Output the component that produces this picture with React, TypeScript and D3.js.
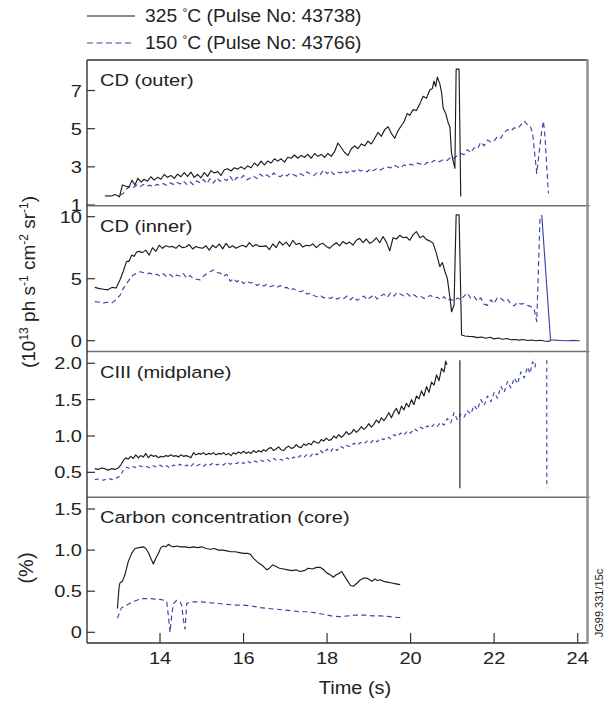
import React from "react";
import * as d3 from "d3";

type Pt = [number, number | null];

// ---------- categories / ticks ----------
const timeTicks = [14, 16, 18, 20, 22, 24];
const panelTitles = ["CD (outer)", "CD (inner)", "CIII (midplane)", "Carbon concentration (core)"];
const outerTicks = [1, 3, 5, 7];
const outerTickLabels = ["1", "3", "5", "7"];
const innerTicks = [0, 5, 10];
const innerTickLabels = ["0", "5", "10"];
const ciiiTicks = [0.5, 1.0, 1.5, 2.0];
const ciiiTickLabels = ["0.5", "1.0", "1.5", "2.0"];
const carbonTicks = [0, 0.5, 1.0, 1.5];
const carbonTickLabels = ["0", "0.5", "1.0", "1.5"];
const legendLabels = ["325 ", "150 "];
const legendPulses = ["C (Pulse No: 43738)", "C (Pulse No: 43766)"];

// ---------- series: CD (outer) ----------
const cdOuter325: Pt[] = [
  [12.68,1.47],[12.76,1.48],[12.84,1.47],[12.92,1.55],[12.98,1.5],[13.03,1.42],[13.1,2.05],[13.18,1.98],[13.26,1.95],
  [13.33,2.3],[13.4,2.05],[13.47,2.4],[13.55,2.2],[13.62,2.35],[13.7,2.25],[13.78,2.48],[13.86,2.3],[13.94,2.45],
  [14.02,2.35],[14.1,2.6],[14.18,2.45],[14.26,2.55],[14.34,2.4],[14.42,2.62],[14.5,2.48],[14.58,2.7],[14.66,2.5],
  [14.74,2.72],[14.82,2.45],[14.9,2.6],[14.98,2.42],[15.06,2.7],[15.14,2.5],[15.22,2.8],[15.3,2.68],[15.38,2.75],
  [15.46,2.55],[15.54,2.85],[15.62,2.9],[15.7,2.78],[15.78,2.95],[15.86,2.88],[15.94,3.0],[16.02,2.88],[16.1,3.05],
  [16.18,2.95],[16.26,3.2],[16.34,3.05],[16.42,3.3],[16.5,3.1],[16.58,3.3],[16.66,3.2],[16.74,3.42],[16.82,3.3],
  [16.9,3.42],[16.98,3.25],[17.06,3.5],[17.14,3.45],[17.22,3.62],[17.3,3.45],[17.38,3.6],[17.46,3.5],[17.54,3.65],
  [17.62,3.45],[17.7,3.7],[17.78,3.55],[17.86,3.65],[17.94,3.5],[18.02,3.7],[18.1,3.55],[18.18,3.8],[18.26,4.25],
  [18.34,4.0],[18.42,3.75],[18.5,3.6],[18.58,3.95],[18.66,4.1],[18.74,3.95],[18.82,4.2],[18.9,4.1],[18.98,4.35],
  [19.06,4.2],[19.14,4.5],[19.22,4.8],[19.3,4.6],[19.38,4.95],[19.46,5.1],[19.54,4.75],[19.62,4.5],[19.7,4.9],
  [19.76,5.1],[19.84,5.35],[19.92,5.8],[19.98,5.7],[20.06,6.0],[20.14,5.95],[20.22,6.3],[20.3,6.7],[20.38,6.6],
  [20.46,7.03],[20.52,7.1],[20.56,7.5],[20.6,7.2],[20.64,7.7],[20.7,7.35],[20.74,6.9],[20.78,6.07],[20.84,5.8],
  [20.9,5.3],[20.94,5.1],[20.98,3.7],[21.02,3.3],[21.06,2.92],[21.09,8.12],[21.16,8.12],[21.2,1.44]
];
const cdOuter150: Pt[] = [
  [13.04,1.52],[13.12,1.6],[13.2,1.85],[13.28,1.96],[13.36,1.9],[13.44,2.05],[13.52,1.95],[13.6,2.08],[13.68,1.98],
  [13.76,2.04],[13.84,1.95],[13.92,2.08],[14.0,2.02],[14.08,2.12],[14.16,2.02],[14.24,2.16],[14.32,2.08],[14.4,2.2],
  [14.48,2.1],[14.56,2.25],[14.64,2.08],[14.72,2.22],[14.8,2.06],[14.88,2.26],[14.96,2.16],[15.04,2.34],[15.12,2.12],
  [15.2,2.38],[15.28,2.15],[15.36,2.42],[15.44,2.24],[15.52,2.38],[15.6,2.28],[15.68,2.5],[15.76,2.22],[15.84,2.45],
  [15.92,2.36],[16.0,2.55],[16.08,2.32],[16.16,2.42],[16.24,2.52],[16.32,2.38],[16.4,2.62],[16.48,2.47],[16.56,2.58],
  [16.64,2.44],[16.72,2.68],[16.8,2.54],[16.88,2.48],[16.96,2.62],[17.04,2.52],[17.12,2.68],[17.2,2.58],[17.28,2.5],
  [17.36,2.64],[17.44,2.54],[17.52,2.74],[17.6,2.6],[17.68,2.54],[17.76,2.7],[17.84,2.6],[17.92,2.84],[18.0,2.64],
  [18.08,2.8],[18.16,2.6],[18.24,2.74],[18.32,2.68],[18.4,2.8],[18.48,2.68],[18.56,2.84],[18.64,2.74],[18.72,2.9],
  [18.8,2.78],[18.88,2.84],[18.96,2.74],[19.04,2.9],[19.12,2.8],[19.2,2.94],[19.28,2.84],[19.36,2.94],[19.44,3.0],
  [19.52,2.94],[19.6,3.1],[19.68,3.0],[19.76,2.94],[19.84,3.1],[19.92,3.04],[20.0,3.14],[20.08,3.08],[20.16,3.2],
  [20.24,3.14],[20.32,3.08],[20.4,3.24],[20.48,3.18],[20.56,3.34],[20.64,3.24],[20.72,3.3],[20.8,3.4],[20.88,3.34],
  [20.96,3.5],[21.04,3.44],[21.12,3.6],[21.2,3.7],[21.28,3.64],[21.36,3.9],[21.44,3.74],[21.52,4.0],[21.6,3.94],
  [21.68,4.3],[21.76,4.1],[21.84,4.4],[21.92,4.3],[22.0,4.35],[22.08,4.6],[22.16,4.5],[22.24,4.8],[22.32,4.95],
  [22.4,4.88],[22.48,5.05],[22.56,5.0],[22.64,5.2],[22.72,5.4],[22.8,5.2],[22.86,5.15],[22.92,4.8],[22.98,3.5],
  [23.02,2.66],[23.08,3.8],[23.14,4.9],[23.18,5.4],[23.22,4.5],[23.26,3.0],[23.3,1.6]
];

// ---------- series: CD (inner) ----------
const cdInner325: Pt[] = [
  [12.44,4.3],[12.55,4.2],[12.65,4.15],[12.75,4.1],[12.85,4.3],[12.95,4.25],[13.04,4.9],[13.12,5.6],[13.2,6.4],
  [13.26,6.4],[13.32,6.9],[13.38,6.8],[13.44,7.15],[13.5,7.2],[13.58,7.1],[13.66,7.3],[13.74,6.9],[13.82,7.5],
  [13.9,7.2],[13.98,7.7],[14.06,7.45],[14.14,7.65],[14.22,7.55],[14.3,7.6],[14.38,7.45],[14.46,7.7],[14.54,7.5],
  [14.62,7.55],[14.7,7.75],[14.78,7.4],[14.86,7.6],[14.94,7.5],[15.02,7.45],[15.1,7.65],[15.18,7.3],[15.26,7.7],
  [15.34,7.5],[15.42,7.8],[15.5,7.4],[15.58,7.85],[15.66,7.5],[15.74,7.65],[15.82,7.45],[15.9,7.6],[15.98,7.7],
  [16.06,7.55],[16.14,7.9],[16.22,7.6],[16.3,7.75],[16.38,7.6],[16.46,7.6],[16.54,7.65],[16.62,7.35],[16.7,7.8],
  [16.78,7.5],[16.86,8.0],[16.94,7.7],[17.02,7.95],[17.1,7.6],[17.18,8.1],[17.26,7.75],[17.34,7.85],[17.42,7.55],
  [17.5,7.7],[17.58,7.65],[17.66,7.8],[17.74,7.5],[17.82,7.75],[17.9,7.85],[17.98,7.6],[18.06,7.45],[18.14,7.7],
  [18.22,7.9],[18.3,7.65],[18.38,8.0],[18.46,7.8],[18.54,7.95],[18.62,7.7],[18.7,8.1],[18.78,8.25],[18.86,7.9],
  [18.94,8.2],[19.02,7.85],[19.1,8.0],[19.18,8.3],[19.26,7.9],[19.34,8.4],[19.42,7.95],[19.5,7.25],[19.58,8.3],
  [19.66,8.2],[19.74,8.5],[19.82,8.3],[19.9,8.35],[19.98,8.1],[20.06,8.55],[20.14,8.8],[20.22,8.3],[20.3,8.45],
  [20.38,8.15],[20.46,8.05],[20.54,7.85],[20.62,7.0],[20.7,5.97],[20.76,6.3],[20.82,5.6],[20.88,5.0],[20.94,3.5],
  [20.98,2.34],[21.04,2.88],[21.09,10.14],[21.16,10.14],[21.22,0.46],[21.3,0.38],[21.4,0.35],[21.5,0.33],[21.6,0.25],
  [21.7,0.3],[21.8,0.2],[21.9,0.28],[22.0,0.15],[22.1,0.22],[22.2,0.12],[22.3,0.18],[22.4,0.08],[22.5,0.1],
  [22.6,0.05],[22.7,0.1],[22.8,0.02],[22.9,0.06],[23.0,0.0],[23.1,0.04],[23.2,-0.02],[23.3,-0.05],[23.36,0.02]
];
const cdInner150: Pt[] = [
  [12.44,3.15],[12.55,3.1],[12.65,3.05],[12.75,3.1],[12.85,3.05],[12.95,3.3],[13.05,3.7],[13.12,4.2],[13.2,4.6],
  [13.28,5.0],[13.36,5.3],[13.44,5.45],[13.52,5.56],[13.6,5.5],[13.68,5.4],[13.76,5.45],[13.84,5.3],[13.92,5.35],
  [14.0,5.2],[14.08,5.4],[14.16,5.15],[14.24,5.35],[14.32,5.1],[14.4,5.3],[14.48,5.2],[14.56,5.4],[14.64,5.05],
  [14.72,5.25],[14.8,5.0],[14.88,4.95],[14.96,4.9],[15.04,5.2],[15.12,5.4],[15.2,5.55],[15.28,5.7],[15.36,5.5],
  [15.44,5.45],[15.52,5.2],[15.6,5.35],[15.68,4.8],[15.76,5.0],[15.84,4.75],[15.92,4.9],[16.0,4.6],[16.08,4.8],
  [16.16,4.65],[16.24,4.7],[16.32,4.45],[16.4,4.6],[16.48,4.4],[16.56,4.55],[16.64,4.35],[16.72,4.45],[16.8,4.3],
  [16.88,4.45],[16.96,4.25],[17.04,4.3],[17.12,4.05],[17.2,4.2],[17.28,4.0],[17.36,3.95],[17.44,4.05],[17.52,3.75],
  [17.6,3.85],[17.68,3.65],[17.76,3.55],[17.84,3.65],[17.92,3.45],[18.0,3.5],[18.08,3.4],[18.16,3.55],[18.24,3.35],
  [18.32,3.5],[18.4,3.4],[18.48,3.6],[18.56,3.3],[18.64,3.55],[18.72,3.25],[18.8,3.45],[18.88,3.6],[18.96,3.3],
  [19.04,3.5],[19.12,3.7],[19.2,3.35],[19.28,3.6],[19.36,3.75],[19.44,3.5],[19.52,3.85],[19.6,3.6],[19.68,3.9],
  [19.76,3.75],[19.84,3.6],[19.92,3.8],[20.0,3.55],[20.08,3.7],[20.16,3.5],[20.24,3.6],[20.32,3.4],[20.4,3.55],
  [20.48,3.65],[20.56,3.45],[20.64,3.5],[20.72,3.3],[20.8,3.55],[20.88,3.25],[20.96,3.35],[21.04,3.2],[21.12,3.45],
  [21.2,3.3],[21.28,3.6],[21.36,3.85],[21.44,3.4],[21.52,3.55],[21.6,3.2],[21.68,3.45],[21.76,2.95],[21.84,2.85],
  [21.92,3.3],[22.0,3.0],[22.08,3.5],[22.16,3.4],[22.24,3.2],[22.32,3.35],[22.4,2.95],[22.48,2.8],[22.56,3.1],
  [22.64,2.95],[22.72,3.0],[22.8,2.85],[22.88,2.75],[22.96,2.5],[23.02,1.53],[23.1,10.14]
];
const cdInner150Tail: Pt[] = [
  [23.14,10.14],[23.35,0.06],[23.45,0.05],[23.6,0.02],[23.75,0.0],[23.9,0.03],[24.05,0.0]
];

// ---------- series: CIII (midplane) ----------
const ciii325: Pt[] = [
  [12.44,0.55],[12.52,0.54],[12.6,0.56],[12.68,0.55],[12.76,0.53],[12.84,0.55],[12.92,0.54],[13.0,0.56],[13.06,0.6],
  [13.12,0.66],[13.18,0.7],[13.24,0.68],[13.3,0.72],[13.36,0.69],[13.42,0.74],[13.48,0.7],[13.54,0.73],[13.6,0.71],
  [13.66,0.76],[13.72,0.7],[13.78,0.74],[13.84,0.72],[13.9,0.73],[13.96,0.7],[14.02,0.72],[14.08,0.71],[14.14,0.73],
  [14.2,0.72],[14.26,0.74],[14.32,0.72],[14.38,0.73],[14.44,0.71],[14.5,0.74],[14.56,0.72],[14.62,0.73],[14.68,0.72],
  [14.74,0.7],[14.8,0.77],[14.86,0.74],[14.92,0.76],[14.98,0.75],[15.04,0.77],[15.1,0.74],[15.16,0.76],[15.22,0.75],
  [15.28,0.77],[15.34,0.74],[15.4,0.76],[15.46,0.75],[15.52,0.77],[15.58,0.74],[15.64,0.76],[15.7,0.73],[15.76,0.77],
  [15.82,0.75],[15.88,0.78],[15.94,0.76],[16.0,0.79],[16.06,0.76],[16.12,0.78],[16.18,0.76],[16.24,0.8],[16.3,0.77],
  [16.36,0.8],[16.42,0.78],[16.48,0.81],[16.54,0.79],[16.6,0.83],[16.66,0.84],[16.72,0.8],[16.78,0.82],[16.84,0.85],
  [16.9,0.81],[16.96,0.8],[17.02,0.84],[17.08,0.86],[17.14,0.83],[17.2,0.84],[17.26,0.88],[17.32,0.85],[17.38,0.84],
  [17.44,0.89],[17.5,0.87],[17.56,0.9],[17.62,0.88],[17.68,0.93],[17.74,0.91],[17.8,0.9],[17.86,0.95],[17.92,0.93],
  [17.98,0.97],[18.04,0.94],[18.1,0.95],[18.16,1.0],[18.22,0.97],[18.28,1.02],[18.34,0.98],[18.4,1.01],[18.46,1.06],
  [18.52,1.02],[18.58,1.04],[18.64,1.09],[18.7,1.05],[18.76,1.08],[18.82,1.13],[18.88,1.09],[18.94,1.12],[19.0,1.17],
  [19.06,1.12],[19.12,1.16],[19.18,1.22],[19.24,1.18],[19.3,1.25],[19.36,1.21],[19.42,1.26],[19.48,1.32],[19.54,1.25],
  [19.6,1.33],[19.66,1.38],[19.72,1.3],[19.78,1.41],[19.84,1.36],[19.9,1.45],[19.96,1.4],[20.02,1.5],[20.08,1.43],
  [20.14,1.55],[20.2,1.51],[20.26,1.62],[20.32,1.55],[20.38,1.68],[20.44,1.6],[20.5,1.74],[20.56,1.7],[20.62,1.84],
  [20.68,1.76],[20.74,1.93],[20.8,1.88],[20.84,2.03],[20.87,1.98],[21.0,null],[21.18,2.04],[21.18,0.28]
];
const ciii150: Pt[] = [
  [12.44,0.4],[12.55,0.41],[12.65,0.39],[12.75,0.42],[12.85,0.4],[12.95,0.42],[13.05,0.45],[13.12,0.53],[13.2,0.57],
  [13.28,0.55],[13.36,0.58],[13.44,0.56],[13.52,0.59],[13.6,0.57],[13.68,0.58],[13.76,0.56],[13.84,0.59],[13.92,0.57],
  [14.0,0.6],[14.08,0.57],[14.16,0.59],[14.24,0.56],[14.32,0.6],[14.4,0.58],[14.48,0.61],[14.56,0.58],[14.64,0.6],
  [14.72,0.57],[14.8,0.62],[14.88,0.59],[14.96,0.61],[15.04,0.58],[15.12,0.62],[15.2,0.6],[15.28,0.63],[15.36,0.6],
  [15.44,0.62],[15.52,0.6],[15.6,0.64],[15.68,0.61],[15.76,0.63],[15.84,0.62],[15.92,0.65],[16.0,0.62],[16.08,0.66],
  [16.16,0.63],[16.24,0.66],[16.32,0.64],[16.4,0.67],[16.48,0.65],[16.56,0.68],[16.64,0.65],[16.72,0.69],[16.8,0.66],
  [16.88,0.68],[16.96,0.66],[17.04,0.7],[17.12,0.67],[17.2,0.71],[17.28,0.69],[17.36,0.73],[17.44,0.7],[17.52,0.75],
  [17.6,0.72],[17.68,0.77],[17.76,0.74],[17.84,0.8],[17.92,0.76],[18.0,0.82],[18.08,0.78],[18.16,0.84],[18.24,0.8],
  [18.32,0.86],[18.4,0.83],[18.48,0.87],[18.56,0.85],[18.64,0.9],[18.72,0.87],[18.8,0.91],[18.88,0.89],[18.96,0.93],
  [19.04,0.9],[19.12,0.95],[19.2,0.92],[19.28,0.97],[19.36,0.95],[19.44,0.99],[19.52,0.96],[19.6,1.02],[19.68,0.99],
  [19.76,1.04],[19.84,1.01],[19.92,1.07],[20.0,1.04],[20.08,1.1],[20.16,1.07],[20.24,1.12],[20.32,1.09],[20.4,1.14],
  [20.48,1.11],[20.56,1.16],[20.64,1.13],[20.72,1.19],[20.8,1.15],[20.88,1.24],[20.96,1.18],[21.04,1.32],[21.12,1.22],
  [21.2,1.3],[21.28,1.26],[21.36,1.35],[21.44,1.3],[21.52,1.42],[21.6,1.36],[21.68,1.5],[21.76,1.42],[21.84,1.55],
  [21.92,1.47],[22.0,1.6],[22.08,1.52],[22.16,1.68],[22.24,1.6],[22.32,1.75],[22.4,1.66],[22.48,1.8],[22.56,1.72],
  [22.64,1.88],[22.72,1.8],[22.8,1.95],[22.86,1.86],[22.92,2.02],[22.98,1.95],[23.0,2.05],[23.1,null],[23.26,2.04],
  [23.26,0.28]
];

// ---------- series: carbon concentration ----------
const carbon325: Pt[] = [
  [12.98,0.29],[13.02,0.55],[13.04,0.6],[13.1,0.62],[13.16,0.7],[13.24,0.86],[13.32,0.96],[13.4,1.02],[13.5,1.03],
  [13.6,1.04],[13.66,1.02],[13.72,0.97],[13.78,0.9],[13.84,0.83],[13.9,0.9],[13.96,0.96],[14.02,1.03],[14.08,1.05],
  [14.14,1.04],[14.2,1.07],[14.26,1.05],[14.32,1.04],[14.4,1.05],[14.5,1.04],[14.6,1.04],[14.7,1.03],[14.8,1.04],
  [14.9,1.03],[15.0,1.04],[15.1,1.02],[15.2,1.01],[15.3,1.02],[15.4,1.0],[15.5,1.0],[15.6,0.99],[15.7,0.98],
  [15.8,0.98],[15.9,0.97],[16.0,0.96],[16.1,0.96],[16.16,0.95],[16.24,0.9],[16.32,0.86],[16.4,0.83],[16.48,0.8],
  [16.56,0.76],[16.62,0.78],[16.7,0.82],[16.78,0.8],[16.86,0.78],[16.96,0.77],[17.06,0.76],[17.16,0.75],[17.26,0.76],
  [17.35,0.74],[17.45,0.75],[17.55,0.78],[17.65,0.77],[17.75,0.79],[17.83,0.79],[17.9,0.77],[18.0,0.72],[18.08,0.7],
  [18.15,0.67],[18.22,0.7],[18.3,0.72],[18.35,0.74],[18.42,0.68],[18.5,0.62],[18.56,0.57],[18.63,0.56],[18.72,0.6],
  [18.8,0.64],[18.88,0.66],[18.95,0.66],[19.02,0.64],[19.08,0.62],[19.14,0.65],[19.2,0.63],[19.27,0.64],[19.35,0.62],
  [19.45,0.61],[19.55,0.6],[19.65,0.59],[19.75,0.58]
];
const carbon150: Pt[] = [
  [12.98,0.17],[13.04,0.25],[13.08,0.3],[13.2,0.33],[13.3,0.36],[13.4,0.38],[13.5,0.4],[13.6,0.41],[13.7,0.41],
  [13.8,0.41],[13.9,0.4],[14.0,0.4],[14.1,0.39],[14.16,0.38],[14.2,0.2],[14.24,0.0],[14.28,0.2],[14.32,0.35],
  [14.4,0.39],[14.48,0.37],[14.52,0.33],[14.56,0.15],[14.6,0.04],[14.64,0.35],[14.72,0.37],[14.8,0.37],[15.0,0.37],
  [15.2,0.36],[15.4,0.35],[15.6,0.34],[15.8,0.33],[16.0,0.33],[16.2,0.32],[16.4,0.3],[16.6,0.29],[16.8,0.28],
  [17.0,0.27],[17.2,0.26],[17.35,0.25],[17.5,0.25],[17.7,0.24],[17.9,0.22],[18.1,0.2],[18.3,0.19],[18.5,0.2],
  [18.7,0.21],[18.9,0.21],[19.1,0.2],[19.3,0.2],[19.5,0.19],[19.7,0.18],[19.83,0.18]
];

const BLACK = "#1c1c1c";
const BLUE = "#3a44a8";
const FONT = "'Liberation Sans', Arial, Helvetica, sans-serif";

function SText(props: { x: number; y: number; sx?: number; size: number; anchor?: string; rotate?: number; children: React.ReactNode; fill?: string }) {
  const { x, y, sx = 1, size, anchor = "start", rotate = 0, children, fill = "#222" } = props;
  return (
    <text
      transform={`translate(${x},${y}) rotate(${rotate}) scale(${sx},1)`}
      fontSize={size}
      textAnchor={anchor}
      fill={fill}
      fontFamily={FONT}
    >
      {children}
    </text>
  );
}

export default function App() {
  const W = 607, H = 702;
  const L = 87, R = 587.5, T = 60, B = 643;
  const ph = (B - T) / 4;
  const x = d3.scaleLinear().domain([12.252, 24.235]).range([L, R]);

  const panels = [
    { title: panelTitles[0], domain: [0.96, 8.6], ticks: outerTicks, labels: outerTickLabels,
      series: [{ d: cdOuter150, c: BLUE, dash: "5,3.5" }, { d: cdOuter325, c: BLACK, dash: "" }] },
    { title: panelTitles[1], domain: [-0.87, 10.88], ticks: innerTicks, labels: innerTickLabels,
      series: [{ d: cdInner150, c: BLUE, dash: "5,3.5" }, { d: cdInner325, c: BLACK, dash: "" }, { d: cdInner150Tail, c: BLUE, dash: "" }] },
    { title: panelTitles[2], domain: [0.157, 2.162], ticks: ciiiTicks, labels: ciiiTickLabels,
      series: [{ d: ciii150, c: BLUE, dash: "4,3.5" }, { d: ciii325, c: BLACK, dash: "" }] },
    { title: panelTitles[3], domain: [-0.13, 1.643], ticks: carbonTicks, labels: carbonTickLabels,
      series: [{ d: carbon150, c: BLUE, dash: "5,3.5" }, { d: carbon325, c: BLACK, dash: "" }] },
  ];

  return (
    <svg width={W} height={H} style={{ position: "absolute", left: 0, top: 0, background: "#fff" }}>
      <rect x={0} y={0} width={W} height={H} fill="#fff" />
      <defs>
        {panels.map((p, i) => (
          <clipPath id={`clip${i}`} key={i}>
            <rect x={L} y={T + i * ph} width={R - L} height={ph} />
          </clipPath>
        ))}
      </defs>

      {/* legend */}
      <line x1={87} x2={135} y1={16} y2={16} stroke={BLACK} strokeWidth={1.2} />
      <line x1={87} x2={133} y1={43} y2={43} stroke={BLUE} strokeWidth={1.2} strokeDasharray="6,3.5" />
      {[0, 1].map((i) => (
        <SText key={i} x={145} y={22 + i * 27} sx={1.1} size={17.5}>
          {legendLabels[i]}
          <tspan fontSize={11} dy={-6}>°</tspan>
          <tspan dy={6}>{legendPulses[i]}</tspan>
        </SText>
      ))}

      {panels.map((p, i) => {
        const y0 = T + i * ph;
        const y = d3.scaleLinear().domain(p.domain).range([y0 + ph, y0]);
        const line = d3
          .line<Pt>()
          .defined((d) => d[1] !== null)
          .x((d) => x(d[0]))
          .y((d) => y(d[1] as number));
        return (
          <g key={i}>
            <g clipPath={`url(#clip${i})`}>
              {p.series.map((s, k) => (
                <path key={k} d={line(s.d) || ""} fill="none" stroke={s.c} strokeWidth={1.15}
                  strokeDasharray={s.dash || undefined} strokeLinejoin="round" />
              ))}
            </g>
            {p.ticks.map((t, k) => (
              <g key={k}>
                <line x1={L} x2={L + 8} y1={y(t)} y2={y(t)} stroke="#333" strokeWidth={1.2} />
                <SText x={82} y={y(t) + 6} sx={1.25} size={16} anchor="end">{p.labels[k]}</SText>
              </g>
            ))}
            <SText x={100} y={y0 + 26} sx={1.18} size={17}>{p.title}</SText>
            {i > 0 && <line x1={L} x2={R + 2} y1={y0} y2={y0} stroke="#6f6f6f" strokeWidth={1.6} />}
          </g>
        );
      })}

      {/* frame */}
      <line x1={L} x2={R} y1={T} y2={T} stroke="#333" strokeWidth={1.6} />
      <line x1={L} x2={L} y1={T} y2={B} stroke="#333" strokeWidth={1.4} />
      <line x1={L} x2={R} y1={B} y2={B} stroke="#333" strokeWidth={1.6} />
      <line x1={R} x2={R} y1={T - 1} y2={B + 1} stroke="#8c8c8c" strokeWidth={2.4} />

      {/* x ticks */}
      {timeTicks.map((t) => (
        <g key={t}>
          <line x1={x(t)} x2={x(t)} y1={B} y2={B - 10} stroke="#333" strokeWidth={1.2} />
          <SText x={x(t)} y={664} sx={1.25} size={16} anchor="middle">{String(t)}</SText>
        </g>
      ))}
      <SText x={355} y={694} sx={1.08} size={18.5} anchor="middle">Time (s)</SText>

      {/* y labels */}
      <SText x={35} y={282} size={19} anchor="middle" rotate={-90}>
        (10<tspan fontSize={12} dy={-7}>13</tspan>
        <tspan dy={7}> ph s</tspan><tspan fontSize={12} dy={-7}>-1</tspan>
        <tspan dy={7}> cm</tspan><tspan fontSize={12} dy={-7}>-2</tspan>
        <tspan dy={7}> sr</tspan><tspan fontSize={12} dy={-7}>-1</tspan>
        <tspan dy={7}>)</tspan>
      </SText>
      <SText x={33} y={568} size={20} anchor="middle" rotate={-90}>(%)</SText>
      <SText x={603} y={603} size={11} anchor="middle" rotate={-90}>JG99.331/15c</SText>
    </svg>
  );
}
